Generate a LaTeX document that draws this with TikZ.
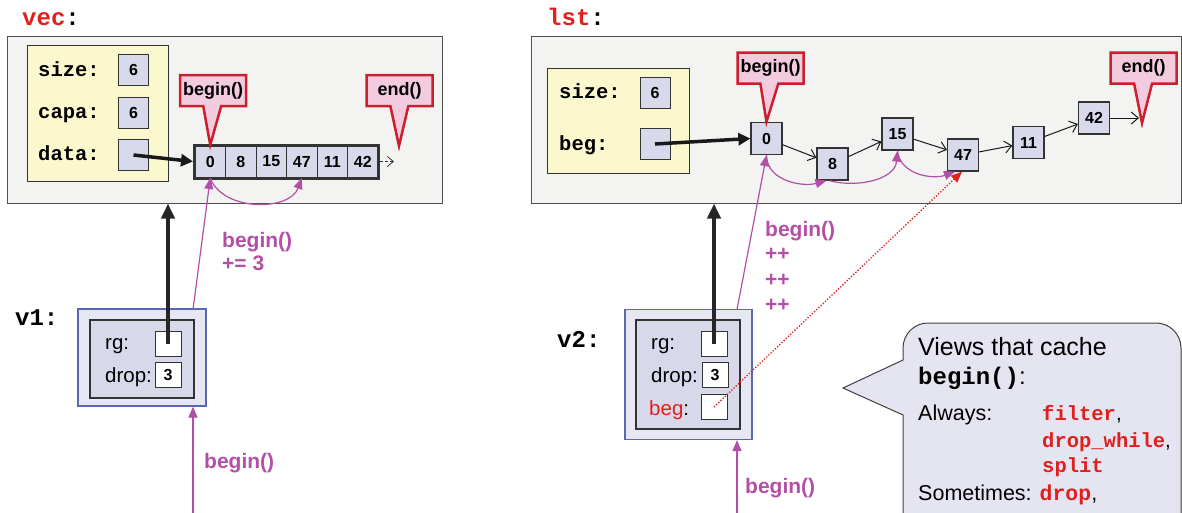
\documentclass[tikz,border=0pt]{standalone}
\usepackage{fontspec}
\setmainfont{Liberation Sans}
\setmonofont{Liberation Mono}
\usepackage{xcolor}
\usetikzlibrary{shapes.callouts,arrows.meta,positioning,fit}

\definecolor{panelfill}{HTML}{F3F4F2}
\definecolor{panelline}{HTML}{505050}
\definecolor{yelfill}{HTML}{FBF8CE}
\definecolor{boxline}{HTML}{333333}
\definecolor{lav}{HTML}{D9D9EC}
\definecolor{pinkfill}{HTML}{F2CBDF}
\definecolor{calred}{HTML}{CC1F2E}
\definecolor{magc}{HTML}{B34FA6}
\definecolor{codered}{HTML}{E0201E}
\definecolor{voutfill}{HTML}{E7E7F4}
\definecolor{voutline}{HTML}{5B67B5}
\definecolor{vinfill}{HTML}{D8D8EB}
\definecolor{bubfill}{HTML}{E5E5F2}

\newcommand{\fsz}[1]{\fontsize{#1pt}{#1pt}\selectfont}

\begin{document}
\begin{tikzpicture}[x=1pt, y=1pt,
    panel/.style={rectangle, draw=panelline, fill=panelfill, line width=1pt, inner sep=0},
    yellowbox/.style={rectangle, draw=boxline, fill=yelfill, line width=1pt, inner sep=0},
    code/.style={font=\fsz{24}\ttfamily\bfseries, anchor=base west, inner sep=0},
    field/.style={font=\fsz{20.5}\ttfamily\bfseries, anchor=base west, inner sep=0},
    lbl/.style={font=\fsz{20.5}, anchor=base west, inner sep=0},
    maglbl/.style={font=\fsz{21}\bfseries, text=magc, anchor=base west, inner sep=0},
    valbox/.style={rectangle, draw=boxline, fill=lav, line width=1pt, minimum width=30pt, minimum height=31pt, inner sep=0, font=\fsz{16}\bfseries},
    cell/.style={valbox, minimum width=30.5pt, minimum height=32pt},
    lnode/.style={valbox, line width=1.3pt, minimum width=31pt, minimum height=32pt},
    wbox/.style={rectangle, draw=boxline, fill=white, line width=1pt, minimum width=26pt, minimum height=25pt, inner sep=0, font=\fsz{16}\bfseries},
    vout/.style={rectangle, draw=voutline, fill=voutfill, line width=1.2pt, inner sep=0},
    vin/.style={rectangle, draw=boxline, fill=vinfill, line width=1.2pt, inner sep=0},
    tagbox/.style={rectangle callout, draw=calred, fill=pinkfill, line width=2.5pt, minimum width=66pt, minimum height=31pt, inner sep=0, font=\fsz{18}\bfseries, callout pointer width=18pt},
    ptr/.style={draw=black!85, line width=4pt, -{Triangle[length=15pt,width=13pt]}},
    datarrow/.style={draw=black!90, line width=3.5pt, -{Triangle[length=12pt,width=12pt]}},
    mag/.style={draw=magc, line width=1.2pt, -{Triangle[length=11pt,width=9pt]}},
    link/.style={draw=black!90, line width=1pt, -{Straight Barb[length=7pt,width=12pt]}},
    reddot/.style={draw=codered, line width=1.3pt, dash pattern=on 1.3pt off 1.7pt, -{Triangle[length=11pt,width=9pt]}}
]
    \useasboundingbox (0,0) rectangle (1182,-512);

    % vec
    \node[code] (veclbl) at (22,-25) {\textcolor{codered}{vec}:};
    \node[panel, minimum width=435pt, minimum height=167pt] (vpanel) at (224.5,-119.5) {};
    \node[yellowbox, minimum width=141pt, minimum height=136pt] (vyel) at (97.5,-113) {};
    \node[field] (vsizel) at (38,-76) {size:};
    \node[field] (vcapal) at (38,-118) {capa:};
    \node[field] (vdatal) at (38,-160) {data:};
    \node[valbox] (vsize) at (133.5,-70) {6};
    \node[valbox] (vcapa) at (133.5,-112.5) {6};
    \node[valbox] (vdata) at (133.5,-155) {};
    \foreach \v [count=\i] in {0,8,15,47,11,42}
        \node[cell] (c\i) at ({179.75+30.5*\i},-161.5) {\v};
    \node[fit=(c1)(c6), draw=boxline, line width=3pt, inner sep=0] (arr) {};
    \draw[datarrow] (vdata.center) -- (arr.west);
    \coordinate (vtail) at (394,-161.5);
    \draw[draw=black!80, line width=0.8pt, dash pattern=on 3pt off 2pt, -{Straight Barb[length=6pt,width=10pt]}] (arr.east) -- (vtail);
    \coordinate (vend) at (399,-146);
    \node[tagbox, callout absolute pointer={(c1.north)}] (vbeg) at (213,-90.5) {begin()};
    \node[tagbox, callout absolute pointer={(vend)}] (vendc) at (399.5,-90.5) {end()};
    \draw[mag] (c1.south) to[out=-70, in=-110] (c4.south);

    % v1
    \node[code] (v1lbl) at (15,-325) {v1:};
    \node[vout, minimum width=128pt, minimum height=97pt] (v1out) at (142,-357.5) {};
    \node[vin, minimum width=104pt, minimum height=78pt] (v1in) at (142,-359) {};
    \node[lbl] (v1rgl) at (105,-349) {rg:};
    \node[lbl] (v1dropl) at (105,-382) {drop:};
    \node[wbox] (v1rg) at (168,-343.5) {};
    \node[wbox] (v1drop) at (168,-374.5) {3};
    \draw[ptr] (v1rg.center) -- (v1rg.center |- vpanel.south);
    \coordinate (v1top) at (193,-309.5);
    \draw[mag] (v1top) -- (c1.south);
    \node[maglbl] (v1inc) at (222,-247) {begin()};
    \node[maglbl] (v1incb) at (222,-270) {+= 3};
    \coordinate (v1foot) at (193,-515);
    \draw[mag] (v1foot) -- (v1foot |- v1out.south);
    \node[maglbl] (v1call) at (204,-468) {begin()};

    % lst
    \node[code] (lstlbl) at (547,-25) {\textcolor{codered}{lst}:};
    \node[panel, minimum width=650pt, minimum height=167pt] (lpanel) at (856,-119.5) {};
    \node[yellowbox, minimum width=142pt, minimum height=105pt] (lyel) at (618,-120.5) {};
    \node[field] (lsizel) at (559,-98) {size:};
    \node[field] (lbegl) at (559,-150) {beg:};
    \node[valbox] (lsize) at (655,-93) {6};
    \node[valbox] (lbeg) at (655,-144) {};
    \node[lnode] (n0) at (766.5,-138.5) {0};
    \node[lnode] (n8) at (832.5,-164) {8};
    \node[lnode] (n15) at (897.5,-134) {15};
    \node[lnode] (n47) at (963,-155) {47};
    \node[lnode] (n11) at (1028.5,-142.5) {11};
    \node[lnode] (n42) at (1094,-118) {42};
    \draw[datarrow] (lbeg.center) -- (n0.west);
    \draw[link] (n0) -- (n8);
    \draw[link] (n8) -- (n15);
    \draw[link] (n15) -- (n47);
    \draw[link] (n47) -- (n11);
    \draw[link] (n11) -- (n42);
    \coordinate (ltail) at (1139,-118);
    \draw[link] (n42) -- (ltail);
    \coordinate (lend) at (1142,-123);
    \node[tagbox, callout absolute pointer={(n0.north)}] (lbegc) at (770.5,-68) {begin()};
    \node[tagbox, callout absolute pointer={(lend)}] (lendc) at (1143.5,-68) {end()};
    \draw[mag] (n0.south) to[out=-90, in=-165] ([xshift=-6pt]n8.south);
    \draw[mag] ([xshift=-3pt]n8.south) to[out=-15, in=-95] (n15.south);
    \draw[mag] (n15.south) to[out=-85, in=-160] ([xshift=-8pt]n47.south);

    % v2
    \node[code] (v2lbl) at (557,-347) {v2:};
    \node[vout, minimum width=127pt, minimum height=130pt] (v2out) at (688.5,-374.5) {};
    \node[vin, minimum width=104pt, minimum height=109pt] (v2in) at (688,-374.5) {};
    \node[lbl] (v2rgl) at (651,-349) {rg:};
    \node[lbl] (v2dropl) at (651,-382) {drop:};
    \node[lbl] (v2begl) at (649,-415) {\textcolor{codered}{beg}:};
    \node[wbox] (v2rg) at (714,-343.5) {};
    \node[wbox] (v2drop) at (715,-374.5) {3};
    \node[wbox] (v2beg) at (714,-407) {};
    \draw[ptr] (v2rg.center) -- (v2rg.center |- lpanel.south);
    \coordinate (v2top) at (737,-309.5);
    \draw[mag] (v2top) -- (n0.south);
    \node[maglbl] (v2inc) at (765,-236) {begin()};
    \foreach \k in {1,2,3}
        \node[maglbl] (v2inc\k) at (765,{-235-25.5*\k}) {++};
    \draw[reddot] (v2beg.center) -- ([xshift=-1pt]n47.south);
    \coordinate (v2foot) at (737,-515);
    \draw[mag] (v2foot) -- (v2foot |- v2out.south);
    \node[maglbl] (v2call) at (745,-493) {begin()};

    % note bubble
    \draw[draw=black!75, fill=bubfill, line width=1pt] (843,-388) -- (903,-360) -- (903,-348)
        arc[start angle=180, end angle=90, radius=25] -- (1156,-323)
        arc[start angle=90, end angle=0, radius=25] -- (1181,-530) -- (903,-530) -- (903,-415) -- cycle;
    \node[lbl, font=\fsz{25}] (bhead) at (918,-355) {Views that cache};
    \node[lbl, font=\fsz{24}] (bbeg) at (918,-384) {\texttt{\bfseries begin()}:};
    \node[lbl, font=\fsz{21.5}] (balw) at (918,-420) {Always:};
    \node[field, text=codered] (bf1) at (1042,-420) {filter\textcolor{black}{\normalfont,}};
    \node[field, text=codered] (bf2) at (1042,-447) {drop\_while\textcolor{black}{\normalfont,}};
    \node[field, text=codered] (bf3) at (1042,-472) {split};
    \node[lbl, font=\fsz{21.5}] (bsome) at (918,-500) {Sometimes: \textcolor{codered}{\ttfamily\bfseries drop},};
\end{tikzpicture}
\end{document}
